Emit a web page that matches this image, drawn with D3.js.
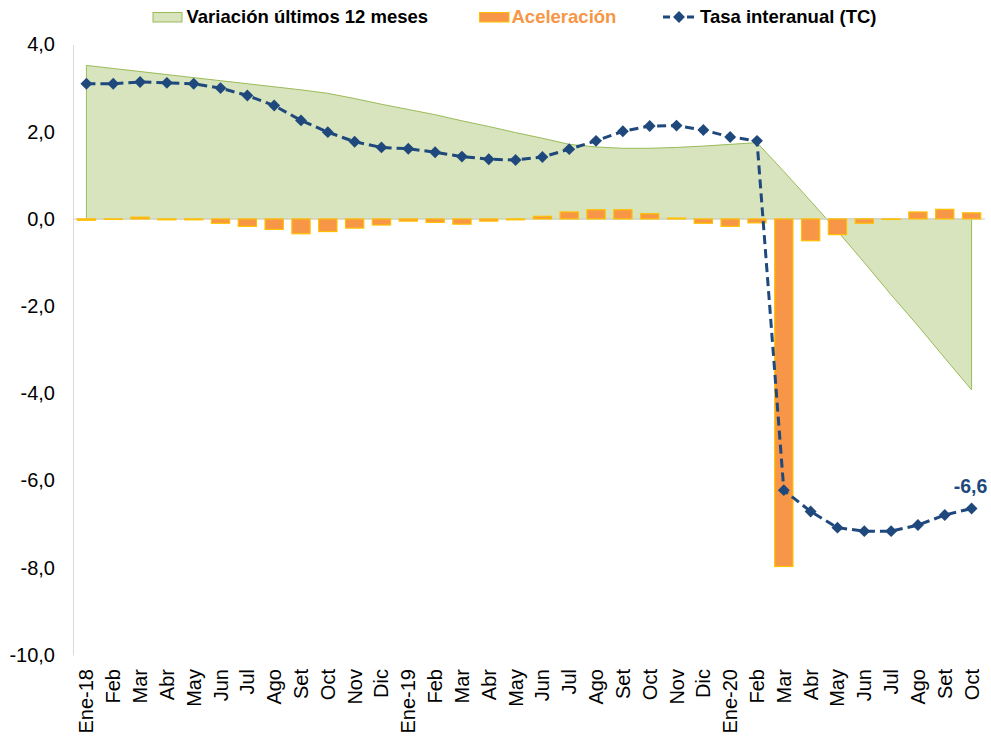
<!DOCTYPE html>
<html>
<head>
<meta charset="utf-8">
<script src="https://cdn.jsdelivr.net/npm/d3@7/dist/d3.min.js"></script>
<style>
  html, body { margin: 0; padding: 0; background: #fff; }
  svg { display: block; font-family: "Liberation Sans", Arial, sans-serif; }
</style>
</head>
<body>
<svg id="chart" width="991" height="736"></svg>
<script>
// ---- data ----
const categories = ["Ene-18","Feb","Mar","Abr","May","Jun","Jul","Ago","Set","Oct","Nov","Dic",
  "Ene-19","Feb","Mar","Abr","May","Jun","Jul","Ago","Set","Oct","Nov","Dic",
  "Ene-20","Feb","Mar","Abr","May","Jun","Jul","Ago","Set","Oct"];
const variacion12 = [3.52,3.45,3.38,3.31,3.24,3.17,3.10,3.03,2.96,2.88,2.76,2.63,
  2.51,2.39,2.25,2.12,1.98,1.85,1.71,1.65,1.62,1.62,1.64,1.67,
  1.71,1.75,1.09,0.41,-0.28,-1.00,-1.74,-2.45,-3.19,-3.92];
const aceleracion = [-0.03,-0.01,0.04,-0.02,-0.02,-0.10,-0.17,-0.24,-0.34,-0.29,-0.21,-0.14,
  -0.05,-0.08,-0.12,-0.05,-0.02,0.06,0.16,0.21,0.21,0.12,0.02,-0.10,
  -0.17,-0.09,-7.97,-0.50,-0.36,-0.10,-0.01,0.16,0.22,0.14];
const tasaInteranual = [3.10,3.10,3.14,3.12,3.10,3.00,2.83,2.60,2.26,1.99,1.77,1.64,
  1.61,1.53,1.43,1.37,1.35,1.42,1.60,1.79,2.01,2.13,2.14,2.04,
  1.88,1.79,-6.22,-6.71,-7.08,-7.16,-7.16,-7.02,-6.79,-6.64];
const yTicks = [-10,-8,-6,-4,-2,0,2,4];
const seriesNames = ["Variación últimos 12 meses","Aceleración","Tasa interanual (TC)"];
const lastLabel = "-6,6";

// ---- styles ----
const C = {
  areaFill: "#D7E4BD", areaStroke: "#9BBB59",
  barFill: "#F79646", barStroke: "#FFC000",
  line: "#1F497D", grid: "#D9D9D9", text: "#000"
};

const svg = d3.select("#chart");
const idx = d3.range(categories.length);

const x = d3.scaleBand().domain(idx).range([73, 985]).paddingInner(0.32).paddingOuter(0.16);
const cx = i => x(i) + x.bandwidth() / 2;
const y = d3.scaleLinear().domain([-10, 4]).range([655, 44.5]);

// area
const area = d3.area().x((d, i) => cx(i)).y0(y(0)).y1(d => y(d));
svg.append("path").datum(variacion12)
  .attr("d", area)
  .attr("fill", C.areaFill)
  .attr("stroke", C.areaStroke)
  .attr("stroke-width", 1);

// y axis
const yAxis = svg.append("g").attr("transform", "translate(73,0)")
  .call(d3.axisLeft(y).tickValues(yTicks).tickSize(0).tickPadding(18)
    .tickFormat(d => d3.format(".1f")(d).replace(".", ",").replace("−", "-")));
yAxis.select(".domain").attr("stroke", "#DDDAD0").attr("stroke-width", 1);
yAxis.selectAll("text").attr("font-size", "20px").attr("fill", C.text)
  .attr("font-family", "'Liberation Sans', Arial, sans-serif");

// zero line
svg.append("line")
  .attr("x1", 73).attr("x2", 985)
  .attr("y1", y(0)).attr("y2", y(0))
  .attr("stroke", C.grid).attr("stroke-width", 1.5);

// bars
svg.append("g").selectAll("rect").data(aceleracion).join("rect")
  .attr("x", (d, i) => x(i))
  .attr("width", x.bandwidth())
  .attr("y", d => y(Math.max(0, d)))
  .attr("height", d => Math.max(0.5, Math.abs(y(d) - y(0))))
  .attr("fill", C.barFill)
  .attr("stroke", C.barStroke)
  .attr("stroke-width", 1.2);

// x axis labels
const xAxis = svg.append("g").attr("transform", `translate(0,${y(-10)})`)
  .call(d3.axisBottom(x).tickSize(0).tickFormat(i => categories[i]));
xAxis.select(".domain").remove();
xAxis.selectAll("text")
  .attr("transform", "rotate(-90)")
  .attr("x", -14).attr("y", 0).attr("dy", "0.35em")
  .attr("text-anchor", "end")
  .attr("font-size", "20px").attr("fill", C.text)
  .attr("font-family", "'Liberation Sans', Arial, sans-serif");

// line
const line = d3.line().x((d, i) => cx(i)).y(d => y(d));
svg.append("path").datum(tasaInteranual)
  .attr("d", line)
  .attr("fill", "none")
  .attr("stroke", C.line)
  .attr("stroke-width", 3)
  .attr("stroke-dasharray", "9,5");

const diamond = d3.symbol().type(d3.symbolDiamond2).size(90);
svg.append("g").selectAll("path").data(tasaInteranual).join("path")
  .attr("transform", (d, i) => `translate(${cx(i)},${y(d)})`)
  .attr("d", diamond)
  .attr("fill", C.line);

// last value label
const li = tasaInteranual.length - 1;
svg.append("text")
  .attr("x", cx(li) - 1).attr("y", y(tasaInteranual[li]) - 15)
  .attr("text-anchor", "middle")
  .attr("font-size", "19.5px").attr("font-weight", "bold")
  .attr("fill", C.line)
  .text(lastLabel);

// legend
const lg = svg.append("g");
lg.append("rect").attr("x", 153).attr("y", 12.5).attr("width", 29).attr("height", 9.5)
  .attr("fill", C.areaFill).attr("stroke", C.areaStroke).attr("stroke-width", 1);
lg.append("text").attr("x", 186.5).attr("y", 23).attr("font-size", "18.5px").attr("font-weight", "bold")
  .attr("fill", C.text).text(seriesNames[0]);

lg.append("rect").attr("x", 479.5).attr("y", 12.5).attr("width", 29.5).attr("height", 9.5)
  .attr("fill", C.barFill).attr("stroke", C.barStroke).attr("stroke-width", 1);
lg.append("text").attr("x", 511.5).attr("y", 23).attr("font-size", "18.5px").attr("font-weight", "bold")
  .attr("fill", C.barFill).text(seriesNames[1]);

lg.append("line").attr("x1", 663).attr("x2", 697).attr("y1", 17).attr("y2", 17)
  .attr("stroke", C.line).attr("stroke-width", 3).attr("stroke-dasharray", "7,5");
lg.append("path").attr("transform", "translate(679,17)").attr("d", diamond).attr("fill", C.line);
lg.append("text").attr("x", 700).attr("y", 23).attr("font-size", "18.5px").attr("font-weight", "bold")
  .attr("fill", C.text).text(seriesNames[2]);
</script>
</body>
</html>
